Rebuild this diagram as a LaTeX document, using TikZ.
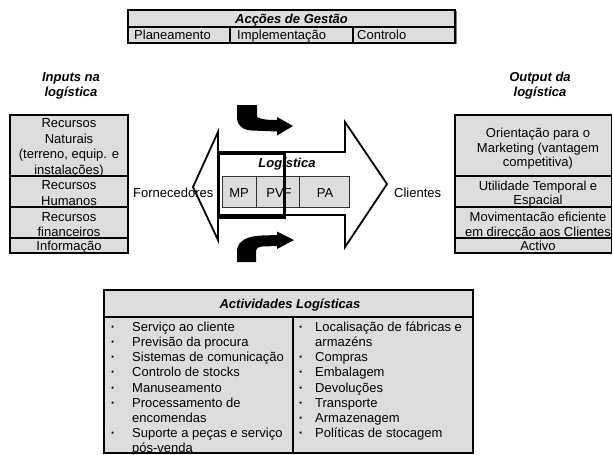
\documentclass[tikz,border=0pt]{standalone}
\usepackage{fontspec}
\setmainfont{Liberation Sans}
\definecolor{cellgray}{RGB}{221,221,221}
\tikzset{
  cell/.style={draw=black, line width=1.4pt, fill=cellgray},
  rule/.style={draw=black, line width=1.4pt},
  thincell/.style={draw=black!80, line width=1pt, fill=cellgray},
  lbl/.style={font=\fontsize{13}{15}\selectfont, inner sep=0pt},
  ttl/.style={font=\fontsize{13}{15}\selectfont\bfseries\itshape, inner sep=0pt},
  bul/.style={font=\fontsize{13}{13}\selectfont\bfseries, inner sep=0pt, anchor=base},
  outline/.style={draw=black, line width=1.8pt, line join=miter},
  logframe/.style={draw=black, line width=3pt},
  turnarrow/.style={fill=black},
}
\begin{document}
\begin{tikzpicture}[x=1pt, y=-1pt]
\useasboundingbox (0,0) rectangle (613,455);

% management actions table
\draw[cell] (128,10) rectangle (455,43);
\draw[rule] (128,27) -- (455,27);
\draw[rule] (230,27) -- (230,43);
\draw[rule] (353,27) -- (353,43);
\draw[gray, line width=1.2pt] (456.5,11) -- (456.5,44);
\node[ttl, anchor=base] (gestao) at (291.5,23.5) {Acções de Gestão};
\node[lbl, anchor=base west] (plan) at (134,39.5) {Planeamento};
\node[lbl, anchor=base west] (impl) at (237,39.5) {Implementação};
\node[lbl, anchor=base west] (ctrl) at (357,39.5) {Controlo};

% inputs
\node[ttl, anchor=base] (inA) at (71,81.5) {Inputs na};
\node[ttl, anchor=base] (inB) at (71,96.5) {logística};
\draw[cell] (10,115) rectangle (128,253);
\draw[rule] (10,176) -- (128,176);
\draw[rule] (10,207) -- (128,207);
\draw[rule] (10,238) -- (128,238);
\node[lbl, anchor=base] (i1a) at (69,127.5) {Recursos};
\node[lbl, anchor=base] (i1b) at (69,143) {Naturais};
\node[lbl, anchor=base] (i1c) at (69,158.5) {(terreno, equip. e};
\node[lbl, anchor=base] (i1d) at (69,174) {instalações)};
\node[lbl, anchor=base] (i2a) at (69,189.5) {Recursos};
\node[lbl, anchor=base] (i2b) at (69,205) {Humanos};
\node[lbl, anchor=base] (i3a) at (69,221) {Recursos};
\node[lbl, anchor=base] (i3b) at (69,236.5) {financeiros};
\node[lbl, anchor=base] (i4a) at (69,250.5) {Informação};

% outputs
\node[ttl, anchor=base] (outA) at (540,81.5) {Output da};
\node[ttl, anchor=base] (outB) at (540,96.5) {logística};
\draw[cell] (455,115) rectangle (611.5,253);
\draw[rule] (455,176) -- (611.5,176);
\draw[rule] (455,207) -- (611.5,207);
\draw[rule] (455,238) -- (611.5,238);
\node[lbl, anchor=base] (o1a) at (538,137.5) {Orientação para o};
\node[lbl, anchor=base] (o1b) at (538,152) {Marketing (vantagem};
\node[lbl, anchor=base] (o1c) at (538,166.5) {competitiva)};
\node[lbl, anchor=base] (o2a) at (538,190.5) {Utilidade Temporal e};
\node[lbl, anchor=base] (o2b) at (538,204.5) {Espacial};
\node[lbl, anchor=base] (o3a) at (538,221.5) {Movimentacão eficiente};
\node[lbl, anchor=base] (o3b) at (538,236) {em direcção aos Clientes};
\node[lbl, anchor=base] (o4a) at (538,250.5) {Activo};

% material flow cells
\draw[thincell] (222,176) rectangle (349,207);
\draw[draw=black!80, line width=1pt] (256,176) -- (256,207);
\draw[draw=black!80, line width=1pt] (299,176) -- (299,207);
\node[lbl, anchor=base] (mp) at (239,197.5) {MP};
\node[lbl, anchor=base] (pvf) at (279,197.5) {PVF};
\node[lbl, anchor=base] (pa) at (325,197.5) {PA};
\node[ttl, anchor=base] (logi) at (287,167.5) {Logística};
\node[lbl, anchor=base west] (forn) at (133,197.5) {Fornecedores};
\node[lbl, anchor=base west] (cli) at (394,197.5) {Clientes};

% two-way flow arrow and logistics frame
\draw[outline] (193,187) -- (218,132) -- (218,152) -- (345,152) -- (345,122)
  -- (387,184) -- (345,247) -- (345,215) -- (218,215) -- (218,240) -- cycle;
\draw[logframe] (218,153) rectangle (284,217);

% turning arrows
\fill[turnarrow] (237,105) -- (257,105) -- (257,117)
  .. controls (261,119.5) and (268,120) .. (277,120) -- (277,117) -- (293,126)
  -- (277,135.5) -- (277,131.5) -- (252,130.5)
  .. controls (243,130) and (237.5,126) .. (237,118) -- cycle;
\fill[turnarrow] (237,262) -- (237,250)
  .. controls (238,241) and (247,236) .. (262,235.5) -- (277,235) -- (277,231.5)
  -- (294,240) -- (277,249) -- (277,246) -- (262,246.5)
  .. controls (258,247) and (256,248.5) .. (256,252) -- (256,262) -- cycle;

% logistics activities table
\draw[cell] (104,290) rectangle (473,453);
\draw[rule] (104,317) -- (473,317);
\draw[rule] (293,317) -- (293,453);
\node[ttl, anchor=base] (act) at (290,308.5) {Actividades Logísticas};
\foreach \i/\t in {1/Serviço ao cliente, 2/Previsão da procura,
    3/Sistemas de comunicação, 4/Controlo de stocks, 5/Manuseamento,
    6/Processamento de, 7/encomendas, 8/Suporte a peças e serviço, 9/pós-venda}
  \node[lbl, anchor=base west] (l\i) at (132,{331.5+15.125*(\i-1)}) {\t};
\foreach \i/\t in {1/Localisação de fábricas e, 2/armazéns, 3/Compras,
    4/Embalagem, 5/Devoluções, 6/Transporte, 7/Armazenagem,
    8/Políticas de stocagem}
  \node[lbl, anchor=base west] (r\i) at (315,{331.5+15.125*(\i-1)}) {\t};
\foreach \i in {1,2,3,4,5,6,8}
  \node[bul] (lb\i) at (113,{331.5+15.125*(\i-1)}) {·};
\foreach \i in {1,3,4,5,6,7,8}
  \node[bul] (rb\i) at (301,{331.5+15.125*(\i-1)}) {·};
\end{tikzpicture}
\end{document}
